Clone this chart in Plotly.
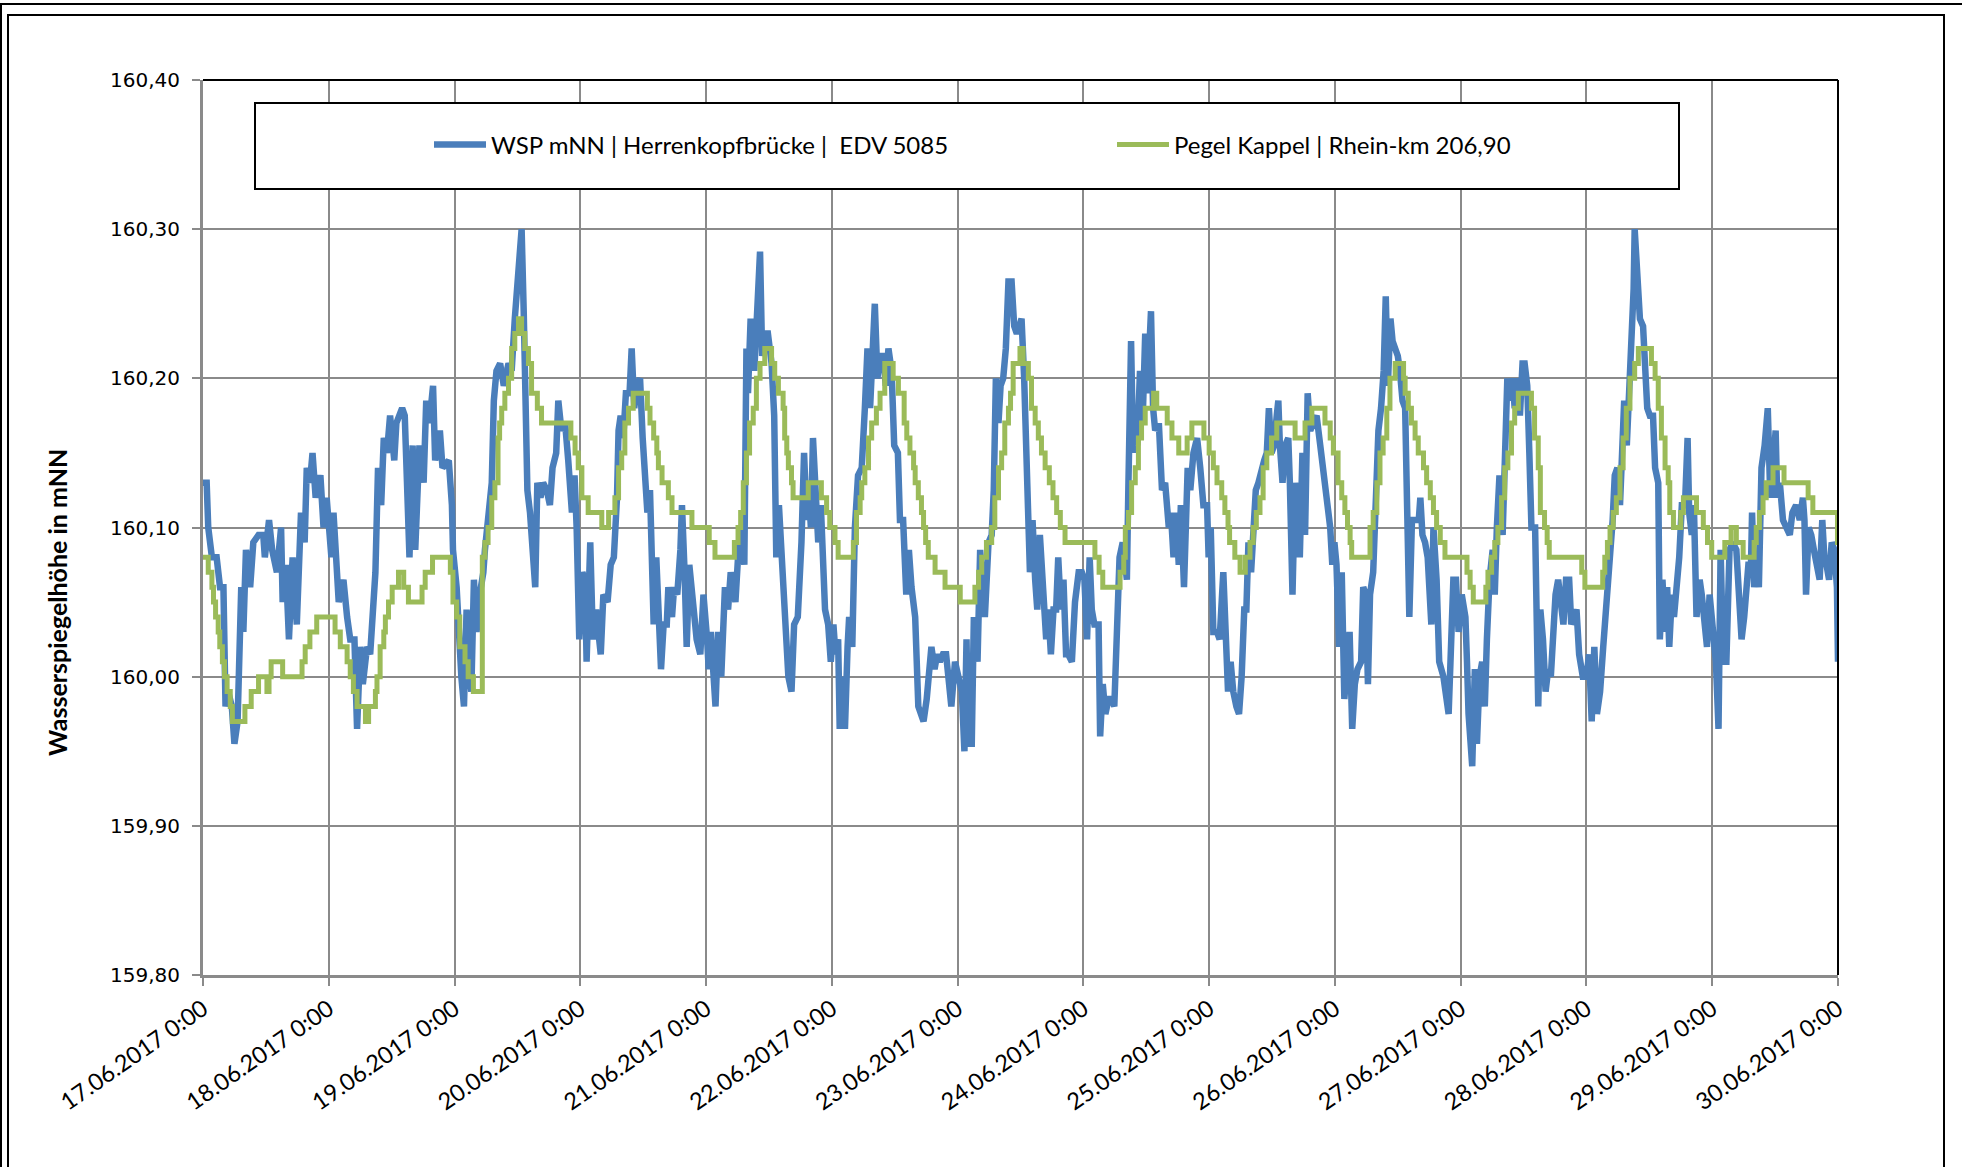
import pandas as pd
import plotly.graph_objects as go

# ---------------- data (hours after 17.06.2017 0:00, values in m NN) ----------------
wsp_hours = [
    0.0, 0.7, 1.0, 1.7, 2.6, 3.25, 3.9, 4.3, 4.8, 5.5, 6.0, 6.6, 7.3, 7.7, 8.2, 9.0, 9.6, 10.6, 11.5, 11.8,
    12.6, 13.2, 14.1, 14.9, 15.2, 15.8, 16.4, 17.1, 17.9, 18.7, 19.4, 19.8, 20.4, 20.9, 21.5, 22.4, 23.0, 23.6,
    24.5, 24.9, 25.9, 26.8, 27.5, 28.1, 28.9, 29.4, 30.0, 30.5, 31.3, 31.9, 32.9, 33.4, 34.0, 34.5, 35.1, 35.7,
    36.5, 36.9, 38.0, 38.5, 39.4, 40.0, 40.5, 41.3, 42.1, 42.6, 43.2, 43.9, 44.3, 45.2, 45.7, 46.9, 47.5,
    47.7, 48.4, 48.7, 49.3, 49.8, 50.3, 50.8, 51.2, 51.7, 52.2, 52.8, 53.5, 53.8, 54.4, 55.1, 55.5, 56.0, 56.7,
    57.4, 58.3, 58.9, 59.5, 60.2, 60.8, 61.2, 61.6, 61.9, 62.4, 62.9, 63.4, 63.8, 64.4, 64.9, 65.6, 66.2, 66.7,
    67.4, 67.8, 68.4, 69.1, 69.7, 70.4, 70.9, 71.3, 71.8, 72.4, 72.9, 73.2, 73.9, 74.4, 75.0, 75.5, 75.9, 76.4,
    77.2, 77.8, 78.4, 79.0, 79.3, 79.7, 80.2, 80.7, 81.4, 81.8, 82.3, 82.8, 83.4, 83.9, 84.4, 84.8, 85.3, 86.0,
    86.5, 86.9, 87.4, 87.9, 88.5, 88.8, 89.5, 89.9, 90.5, 91.1, 91.4, 91.9, 92.3, 92.8, 93.6, 94.2, 94.9, 95.5,
    96.2, 96.5, 96.9,
    97.8, 98.3, 98.9, 99.6, 100.2, 100.7, 101.6, 102.1, 102.6, 103.3, 103.7, 104.0, 104.5, 105.2, 105.6, 106.3,
    106.7, 107.2, 107.8, 108.5, 109.0, 109.4, 109.9, 110.4, 110.9, 111.7, 112.3, 112.8, 113.5, 114.2, 114.7,
    115.2, 115.6, 116.0, 116.4, 116.9, 117.4, 117.9, 118.7, 119.3, 119.8, 120.3, 120.7, 121.2, 121.5, 122.0,
    122.5, 123.0, 123.3, 123.9, 124.4, 125.0, 125.7, 126.3, 126.8, 127.3, 127.6, 128.2, 128.7, 129.2, 129.8,
    130.3, 130.8, 131.4, 131.9, 132.6, 133.0, 133.6, 134.2, 134.7, 135.2, 135.9, 136.5, 137.5, 138.1, 139.0,
    139.6, 140.1, 140.6, 141.2, 141.8, 142.8, 143.5, 144.2, 144.8, 145.3, 145.7,
    146.0, 146.7, 147.1, 147.8, 148.3, 148.9, 149.2, 149.9, 150.5, 150.9, 151.3, 151.8, 152.2, 152.7, 153.2,
    153.7, 154.3, 154.8, 155.3, 155.8, 156.2, 156.7, 157.2, 157.5, 157.8, 158.3, 158.8, 159.2, 159.7, 160.2,
    160.9, 161.3, 161.8, 162.3, 162.8, 163.2, 163.7, 164.2, 164.7, 165.1, 165.8, 166.4, 167.1, 167.7, 168.2,
    168.7, 169.2, 169.6, 170.1, 170.9, 171.2, 171.7, 172.2, 172.8, 173.4, 173.9, 174.4, 174.9, 175.5, 176.3,
    176.6, 177.1, 177.5, 177.9, 178.3, 178.8, 179.3, 179.8, 180.2, 180.9, 181.3, 181.7, 182.4, 183.0, 183.6,
    184.3, 184.7, 185.2, 185.7, 186.2, 186.6, 187.2, 187.9, 188.4, 189.0, 189.7, 190.3, 190.9, 191.6, 191.9,
    192.3, 192.8, 193.5, 194.0,
    194.7, 195.2, 195.6, 196.1, 196.6, 197.2, 197.7, 198.2, 198.7, 199.1, 199.5, 200.0, 200.4, 200.9, 201.4,
    202.0, 202.5, 203.0, 203.4, 203.9, 204.4, 204.9, 205.2, 205.5, 206.0, 206.5, 207.1, 207.4, 207.9, 208.4,
    208.9, 209.3, 209.8, 210.3, 210.8, 211.3, 211.9, 212.5, 213.2, 213.8, 214.4, 215.1, 215.5, 215.9, 216.3,
    216.8, 217.3, 217.8, 218.2, 218.8, 219.3, 219.8, 220.3, 221.0, 221.4, 221.9, 222.3, 222.7, 223.3, 223.8,
    224.3, 224.8, 225.3, 225.7, 226.1, 226.6, 227.0, 227.5, 228.0, 228.4, 228.9, 229.4, 229.7, 230.2, 230.7,
    231.3, 232.0, 232.3, 232.7, 233.2, 233.7, 234.4, 234.8, 235.4, 235.9, 236.7, 237.2, 237.7, 238.2, 238.6,
    239.1, 239.6, 240.2, 240.9, 241.2, 241.5,
    242.2, 242.7, 243.1, 243.6, 244.1, 244.6, 245.0, 245.5, 246.1, 246.5, 246.9, 247.4, 248.0, 248.4, 248.9,
    249.4, 249.9, 250.3, 250.8, 251.3, 251.8, 252.2, 252.7, 253.1, 253.5, 254.2, 254.5, 254.8, 255.2, 255.7,
    256.2, 256.7, 257.2, 257.6, 258.1, 258.6, 259.0, 259.6, 260.1, 260.7, 261.1, 261.6, 262.1, 262.6, 263.3,
    264.0, 264.5, 265.0, 265.5, 266.0, 266.6, 267.2, 267.8, 268.4, 269.0, 269.4, 269.9, 270.4, 270.7, 271.2,
    271.7, 272.2, 272.6, 273.0, 273.2, 273.7, 274.2, 274.8, 275.2, 275.6, 276.1, 276.7, 277.1, 277.7, 278.0,
    278.5, 279.0, 279.4, 279.8, 280.3, 280.7, 281.2, 281.7, 282.2, 282.8, 283.3, 283.6, 284.1, 284.5, 285.0,
    285.6, 286.0, 286.4, 287.0, 287.5, 288.1, 288.7, 289.2, 289.6, 290.1,
    290.7, 291.3, 291.9, 292.6, 293.2, 293.6, 294.1, 294.5, 294.9, 295.4, 295.6, 296.0, 296.6, 296.9, 297.4,
    298.0, 298.6, 299.0, 299.3, 299.8, 300.1, 300.4, 300.9, 301.5, 302.1, 302.8, 303.3, 304.0, 304.7, 305.3,
    305.6, 305.9, 306.4, 306.9, 307.4, 308.1, 308.5, 309.0, 309.4, 309.8, 310.3, 310.8, 311.3, 311.8, 312.0,
]
wsp_values = [
    160.13, 160.13, 160.10, 160.08, 160.08, 160.06, 160.06, 159.98, 159.99, 159.98, 159.955, 159.97, 160.06, 160.03, 160.085, 160.06, 160.09, 160.095, 160.095, 160.08,
    160.105, 160.085, 160.07, 160.10, 160.05, 160.075, 160.025, 160.08, 160.035, 160.11, 160.09, 160.14, 160.13, 160.15, 160.12, 160.135, 160.10, 160.12,
    160.08, 160.11, 160.05, 160.065, 160.04, 160.025, 160.025, 159.965, 160.02, 159.995, 160.02, 160.015, 160.07, 160.14, 160.115, 160.16, 160.15, 160.175,
    160.145, 160.17, 160.18, 160.175, 160.08, 160.155, 160.085, 160.155, 160.13, 160.185, 160.17, 160.195, 160.145, 160.165, 160.14, 160.145, 160.115,
    160.085, 160.06, 160.03, 160.00, 159.98, 160.045, 160.005, 159.99, 160.065, 160.03, 160.055, 160.07, 160.085, 160.11, 160.13, 160.185, 160.205, 160.21,
    160.195, 160.21, 160.205, 160.24, 160.27, 160.30, 160.245, 160.17, 160.125, 160.11, 160.09, 160.06, 160.13, 160.12, 160.13, 160.125, 160.115, 160.14,
    160.15, 160.185, 160.165, 160.17, 160.145, 160.11, 160.135, 160.10, 160.025, 160.07, 160.065, 160.01, 160.09, 160.025, 160.045, 160.03, 160.015, 160.055,
    160.05, 160.075, 160.08, 160.12, 160.165, 160.175, 160.16, 160.19, 160.19, 160.22, 160.18, 160.195, 160.20, 160.16, 160.125, 160.11, 160.125, 160.035,
    160.08, 160.05, 160.005, 160.035, 160.035, 160.06, 160.04, 160.06, 160.055, 160.085, 160.115, 160.07, 160.02, 160.075, 160.04, 160.025, 160.015, 160.055,
    160.025, 160.005, 160.03,
    159.98, 160.03, 160.00, 160.06, 160.045, 160.07, 160.05, 160.08, 160.10, 160.075, 160.22, 160.19, 160.24, 160.205, 160.235, 160.285,
    160.215, 160.23, 160.23, 160.21, 160.175, 160.08, 160.115, 160.08, 160.045, 160.00, 159.99, 160.035, 160.04, 160.09, 160.15,
    160.105, 160.125, 160.10, 160.16, 160.125, 160.09, 160.115, 160.045, 160.035, 160.01, 160.035, 160.015, 160.025, 159.965, 160.00,
    159.965, 160.02, 160.04, 160.02, 160.10, 160.135, 160.14, 160.18, 160.22, 160.18, 160.21, 160.25, 160.20, 160.215, 160.215,
    160.195, 160.22, 160.205, 160.155, 160.15, 160.105, 160.105, 160.055, 160.085, 160.06, 160.04, 159.98, 159.97, 159.985, 160.02,
    160.005, 160.015, 160.01, 160.015, 160.015, 159.98, 160.01, 160.00, 159.99, 159.95, 160.025,
    159.955, 159.955, 160.04, 160.01, 160.085, 160.05, 160.04, 160.09, 160.095, 160.125, 160.20, 160.17, 160.195, 160.20, 160.22,
    160.265, 160.265, 160.235, 160.23, 160.235, 160.24, 160.20, 160.155, 160.105, 160.07, 160.105, 160.065, 160.045, 160.095, 160.065,
    160.025, 160.045, 160.015, 160.045, 160.045, 160.08, 160.045, 160.065, 160.015, 160.015, 160.01, 160.05, 160.07, 160.07, 160.065,
    160.025, 160.08, 160.045, 160.035, 160.035, 159.96, 159.995, 159.975, 159.985, 159.985, 159.98, 160.035, 160.08, 160.09, 160.065,
    160.13, 160.225, 160.15, 160.18, 160.155, 160.205, 160.17, 160.23, 160.19, 160.245, 160.18, 160.165, 160.17, 160.125, 160.13,
    160.10, 160.11, 160.08, 160.11, 160.075, 160.115, 160.06, 160.14, 160.125, 160.15, 160.16, 160.14, 160.115, 160.115, 160.08,
    160.10, 160.03, 160.03, 160.025,
    160.07, 160.035, 159.99, 160.01, 159.99, 159.98, 159.975, 160.00, 160.045, 160.045, 160.09, 160.07, 160.10, 160.125, 160.13,
    160.14, 160.145, 160.15, 160.18, 160.15, 160.155, 160.175, 160.185, 160.155, 160.13, 160.155, 160.16, 160.13, 160.055, 160.13,
    160.095, 160.08, 160.15, 160.095, 160.19, 160.165, 160.17, 160.175, 160.155, 160.14, 160.125, 160.10, 160.075, 160.09, 160.075,
    160.02, 160.07, 159.985, 160.005, 160.03, 159.965, 159.995, 160.005, 160.01, 160.06, 160.055, 159.995, 160.055, 160.07, 160.115,
    160.165, 160.18, 160.205, 160.255, 160.195, 160.24, 160.225, 160.22, 160.215, 160.205, 160.185, 160.18, 160.125, 160.04, 160.105,
    160.105, 160.105, 160.12, 160.095, 160.09, 160.08, 160.035, 160.10, 160.065, 160.01, 160.00, 159.99, 159.975, 160.025, 160.065,
    160.065, 160.03, 160.055, 160.04, 160.01, 159.975,
    159.94, 160.005, 159.955, 160.00, 160.01, 159.98, 160.025, 160.065, 160.085, 160.055, 160.10, 160.135, 160.095, 160.15, 160.20,
    160.185, 160.20, 160.18, 160.20, 160.175, 160.21, 160.21, 160.195, 160.15, 160.10, 160.10, 160.05, 159.98, 160.045, 160.025,
    159.99, 160.005, 160.00, 160.025, 160.055, 160.065, 160.055, 160.035, 160.065, 160.065, 160.035, 160.04, 160.045, 160.015, 160.00,
    160.00, 160.015, 159.97, 160.02, 159.975, 159.99, 160.02, 160.045, 160.075, 160.105, 160.135, 160.14, 160.115, 160.14, 160.185,
    160.155, 160.20, 160.215, 160.26, 160.30, 160.26, 160.24, 160.235, 160.205, 160.18, 160.175, 160.175, 160.14, 160.13, 160.025,
    160.065, 160.03, 160.06, 160.02, 160.055, 160.04, 160.06, 160.08, 160.115, 160.115, 160.16, 160.11, 160.095, 160.115, 160.04,
    160.065, 160.055, 160.035, 160.02, 160.055, 160.03, 160.01, 159.965, 160.085, 160.01,
    160.01, 160.085, 160.09, 160.085, 160.045, 160.025, 160.04, 160.065, 160.075, 160.075, 160.11, 160.06, 160.075, 160.06, 160.14,
    160.155, 160.18, 160.13, 160.12, 160.15, 160.165, 160.12, 160.13, 160.105, 160.10, 160.095, 160.11, 160.115, 160.105, 160.12,
    160.105, 160.055, 160.10, 160.095, 160.085, 160.075, 160.065, 160.105, 160.08, 160.075, 160.065, 160.09, 160.085, 160.06, 160.01,
]

# Pegel Kappel: stepwise gauge (value holds until the next change)
kappel_hours = [
    0.0, 1.0, 1.7, 2.0, 2.4, 2.9, 3.2, 3.7, 4.1, 4.6, 5.2, 5.6, 8.0, 9.2, 10.6, 12.2, 12.6, 13.0, 15.2, 18.9,
    19.5, 20.4, 21.7, 25.2, 26.2, 27.5, 28.1, 28.7, 29.4, 31.0, 31.6, 32.9, 33.2, 33.8, 34.5, 34.8, 35.4, 36.1,
    37.3, 38.3, 39.2, 41.8, 42.4, 43.8, 47.2, 47.7, 48.4, 49.0, 50.0, 50.6, 51.6, 53.3, 53.8, 54.4, 55.1, 55.7,
    56.3, 56.6, 57.0, 57.6, 58.3, 58.9, 59.5, 60.2, 60.8, 61.4, 62.1, 62.7, 63.8, 64.6, 70.2, 71.0, 71.6, 72.3,
    73.5, 76.1, 77.4, 78.6, 79.3, 79.9, 80.5, 81.2, 82.1, 84.8, 85.3, 86.0, 86.6, 86.9, 87.6, 88.8, 89.5, 93.3,
    96.6, 97.7, 101.4, 102.1, 102.6, 103.1, 103.7, 104.3, 105.0, 105.6, 106.3, 107.2, 108.5, 109.1, 109.8,
    110.7, 111.0, 111.4, 111.7, 112.3, 112.6, 115.5, 118.0, 119.0, 119.6, 120.6, 121.2, 124.1, 124.7, 125.4,
    125.7, 126.3, 127.0, 127.6, 128.5, 129.2, 130.1, 131.7, 132.7, 133.8, 134.3, 134.9, 135.6, 135.9, 136.5,
    137.1, 137.5, 137.9, 138.4, 139.7, 141.6, 144.5, 147.3, 148.0, 148.6, 149.5, 150.5, 151.1, 151.8, 152.4,
    153.0, 153.7, 154.1, 154.6, 155.9, 156.5, 157.5, 158.1, 158.8, 159.4, 160.0, 160.7, 161.5, 162.2, 162.9,
    163.6, 164.5, 170.2, 171.0, 171.7, 175.0, 175.7, 176.0, 176.6, 177.2, 177.9, 178.5, 179.1, 179.8, 181.4,
    182.0, 184.0, 184.9, 186.2, 187.8, 188.7, 191.0, 192.0, 192.8, 193.5, 194.4, 195.0, 195.6, 195.9, 196.9,
    197.9, 198.9, 199.8, 200.4, 201.0, 201.7, 202.3, 203.0, 203.9, 204.9, 208.4, 210.3, 211.6, 214.1, 215.1,
    215.7, 216.6, 217.3, 217.9, 218.4, 218.9, 219.2, 222.7, 223.3, 224.0, 224.6, 225.2, 225.9, 226.5, 227.5,
    229.1, 229.4, 230.0, 230.6, 231.3, 231.9, 232.9, 233.5, 234.2, 234.8, 235.4, 236.1, 237.0, 241.2, 241.8,
    242.4, 244.8, 245.2, 245.9, 246.5, 247.1, 247.8, 248.4, 249.0, 249.7, 250.3, 251.0, 253.5, 254.1, 254.8,
    255.2, 256.0, 256.5, 256.9, 263.1, 263.7, 267.1, 267.5, 268.0, 268.5, 269.1, 269.7, 270.4, 271.0, 271.6,
    272.3, 273.2, 273.9, 276.4, 277.1, 277.7, 278.3, 279.0, 279.6, 279.9, 280.6, 282.0, 282.5, 285.0, 286.3,
    287.1, 287.9, 290.4, 291.6, 292.6, 293.9, 296.0, 296.4, 297.0, 297.7, 298.3, 299.6, 301.7, 306.3, 307.2,
    311.9, 312.0,
]
kappel_values = [
    160.08, 160.07, 160.06, 160.05, 160.04, 160.03, 160.02, 160.01, 160.00, 159.99, 159.98, 159.97, 159.98, 159.99, 160.00, 159.99, 160.00, 160.01, 160.00, 160.01,
    160.02, 160.03, 160.04, 160.03, 160.02, 160.01, 160.00, 159.99, 159.98, 159.97, 159.98, 159.99, 160.00, 160.02, 160.03, 160.04, 160.05, 160.06,
    160.07, 160.06, 160.05, 160.06, 160.07, 160.08, 160.07, 160.05, 160.04, 160.02, 160.01, 160.00, 159.99, 160.08, 160.09, 160.10, 160.12, 160.13,
    160.16, 160.17, 160.18, 160.19, 160.20, 160.22, 160.23, 160.24, 160.23, 160.22, 160.21, 160.19, 160.18, 160.17, 160.16, 160.15, 160.14, 160.12,
    160.11, 160.10, 160.11, 160.12, 160.14, 160.15, 160.17, 160.18, 160.19, 160.18, 160.17, 160.16, 160.15, 160.14, 160.13, 160.12, 160.11, 160.10,
    160.09, 160.08, 160.09, 160.10, 160.11, 160.13, 160.15, 160.17, 160.18, 160.20, 160.21, 160.22, 160.21, 160.20, 160.19,
    160.18, 160.16, 160.15, 160.14, 160.13, 160.12, 160.13, 160.12, 160.11, 160.10, 160.09, 160.08, 160.09, 160.11, 160.12,
    160.13, 160.14, 160.16, 160.17, 160.18, 160.19, 160.21, 160.20, 160.19, 160.17, 160.16, 160.15, 160.14, 160.13, 160.12,
    160.11, 160.10, 160.09, 160.08, 160.07, 160.06, 160.05, 160.06, 160.07, 160.08, 160.09, 160.10, 160.12, 160.14, 160.15,
    160.17, 160.18, 160.19, 160.21, 160.22, 160.21, 160.20, 160.18, 160.17, 160.16, 160.15, 160.14, 160.13, 160.12, 160.11,
    160.10, 160.09, 160.08, 160.07, 160.06, 160.07, 160.08, 160.10, 160.11, 160.13, 160.14, 160.16, 160.17, 160.18, 160.19,
    160.18, 160.17, 160.16, 160.15, 160.16, 160.17, 160.16, 160.15, 160.14, 160.13, 160.12, 160.11, 160.10, 160.09, 160.08,
    160.07, 160.08, 160.09, 160.10, 160.11, 160.12, 160.14, 160.15, 160.16, 160.17, 160.16, 160.17, 160.18, 160.17, 160.16,
    160.15, 160.13, 160.12, 160.11, 160.10, 160.09, 160.08, 160.10, 160.11, 160.13, 160.15, 160.16, 160.18, 160.20, 160.21,
    160.20, 160.19, 160.18, 160.17, 160.16, 160.15, 160.14, 160.13, 160.12, 160.11, 160.10, 160.09, 160.08, 160.07, 160.06,
    160.05, 160.06, 160.07, 160.08, 160.09, 160.10, 160.12, 160.14, 160.15, 160.17, 160.18, 160.19, 160.18, 160.16, 160.14,
    160.11, 160.10, 160.09, 160.08, 160.07, 160.06, 160.07, 160.08, 160.09, 160.10, 160.11, 160.12, 160.14, 160.16, 160.18,
    160.20, 160.21, 160.22, 160.21, 160.20, 160.18, 160.16, 160.14, 160.13, 160.11, 160.10, 160.11, 160.12, 160.11, 160.10,
    160.09, 160.08, 160.09, 160.10, 160.09, 160.08, 160.09, 160.10, 160.11, 160.12, 160.13, 160.14, 160.13, 160.12, 160.11,
    160.09, 160.09,
]

start_time = "2017-06-17 00:00"
end_time = "2017-06-30 00:00"
y_ticks = [159.80, 159.90, 160.00, 160.10, 160.20, 160.30, 160.40]
series_names = ["WSP mNN | Herrenkopfbrücke |  EDV 5085", "Pegel Kappel | Rhein-km 206,90"]
y_title = "Wasserspiegelhöhe in mNN"

# ---------------- figure ----------------
t0 = pd.Timestamp(start_time)
wsp_x = t0 + pd.to_timedelta(wsp_hours, unit="h")
kap_x = t0 + pd.to_timedelta(kappel_hours, unit="h")

W, H = 1962, 1167
L, R, T, B = 203, 1838, 80, 975  # plot area in pixels


def px(xp):
    return (xp - L) / (R - L)


def py(yp):
    return (B - yp) / (B - T)


fig = go.Figure()
fig.add_trace(go.Scatter(
    x=wsp_x, y=wsp_values, mode="lines", name=series_names[0],
    line=dict(color="#4a7ebb", width=6.5), legend="legend",
))
fig.add_trace(go.Scatter(
    x=kap_x, y=kappel_values, mode="lines", name=series_names[1],
    line=dict(color="#9bbb59", width=5, shape="hv"), legend="legend2",
))

grid_col = "#8a8a8a"
fig.update_xaxes(
    type="date", range=[start_time, end_time], dtick=86400000, tick0=start_time,
    tickformat="%d.%m.%Y 0:00", tickangle=-35,
    tickfont=dict(family="Lato", size=23.5, color="black"),
    showgrid=True, gridcolor=grid_col, gridwidth=1.5,
    showline=True, linecolor=grid_col, linewidth=3,
    ticks="outside", ticklen=8, tickcolor=grid_col, tickwidth=1.5,
    zeroline=False, fixedrange=True,
)
fig.update_yaxes(
    range=[159.80, 160.40], tickvals=y_ticks, tickformat=".2f",
    tickfont=dict(family="DejaVu Sans", size=20, color="black"),
    showgrid=True, gridcolor=grid_col, gridwidth=1.5,
    showline=True, linecolor=grid_col, linewidth=3,
    ticks="outside", ticklen=8, tickcolor=grid_col, tickwidth=1.5,
    ticklabelstandoff=8, zeroline=False, fixedrange=True,
)

shapes = [
    # black top and right border of the plot area
    dict(type="line", xref="paper", yref="paper", x0=0, x1=1, y0=1, y1=1, line=dict(color="black", width=2)),
    dict(type="line", xref="paper", yref="paper", x0=1, x1=1, y0=0, y1=1, line=dict(color="black", width=2)),
    # legend box
    dict(type="rect", xref="paper", yref="paper", x0=px(255), x1=px(1679), y0=py(189), y1=py(103),
         line=dict(color="black", width=2), fillcolor="white", layer="above"),
    # chart-area double frame
    dict(type="rect", xref="paper", yref="paper", x0=px(1), x1=px(1975), y0=py(1180), y1=py(4),
         line=dict(color="black", width=2), fillcolor="rgba(0,0,0,0)"),
    dict(type="rect", xref="paper", yref="paper", x0=px(8), x1=px(1944), y0=py(1180), y1=py(15),
         line=dict(color="black", width=2), fillcolor="rgba(0,0,0,0)"),
]

legend_common = dict(
    orientation="h", xref="paper", yref="paper", yanchor="middle", xanchor="left",
    bgcolor="rgba(0,0,0,0)", borderwidth=0, itemwidth=52,
    font=dict(family="Lato", size=24, color="black"),
)

fig.update_layout(
    width=W, height=H,
    margin=dict(l=L, r=W - R, t=T, b=H - B, pad=0),
    paper_bgcolor="white", plot_bgcolor="white",
    separators=",.",
    shapes=shapes,
    showlegend=True,
    legend=dict(x=px(429), y=py(145), **legend_common),
    legend2=dict(x=px(1112), y=py(145), **legend_common),
    annotations=[dict(
        text=f"<b>{y_title}</b>", xref="paper", yref="paper", x=px(57), y=py(603),
        xanchor="center", yanchor="middle", textangle=-90, showarrow=False,
        font=dict(family="Liberation Sans Narrow, Lato", size=25, color="black"),
    )],
)

fig.write_html(
    "out.html",
    config={"displayModeBar": False},
    post_script="document.body.style.margin='0';document.body.style.overflow='hidden';",
)
